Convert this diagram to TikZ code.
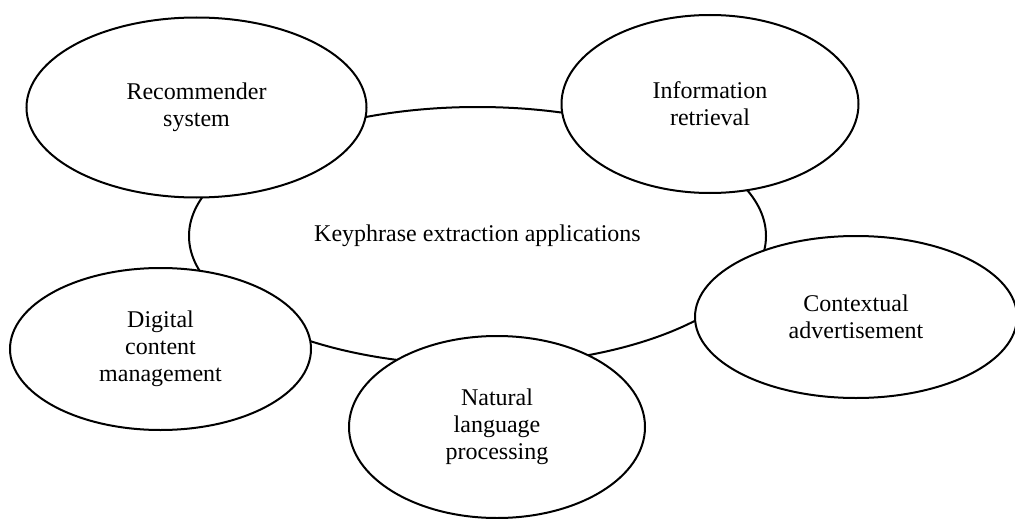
\documentclass[tikz,border=0pt]{standalone}
\usepackage{fontspec}
\setmainfont{Liberation Serif}
\usetikzlibrary{shapes.geometric}
\begin{document}
\begin{tikzpicture}[x=1pt,y=-1pt,
  bub/.style={ellipse,draw,line width=2pt,fill=white,inner sep=0pt,align=center,
    font=\fontsize{24}{27}\selectfont}]
\useasboundingbox (0,0) rectangle (1015,519);
\node[bub, minimum width=577pt, minimum height=258pt] (core) at (477.5,236) {Keyphrase extraction applications};
\node[bub, minimum width=340pt, minimum height=180pt] (rec) at (196.5,107.5) {Recommender\\system};
\node[bub, minimum width=297pt, minimum height=178pt] (info) at (710,104) {Information\\retrieval};
\node[bub, minimum width=322pt, minimum height=162pt] (ctx) at (856,317) {Contextual\\advertisement};
\node[bub, minimum width=301pt, minimum height=162pt] (dig) at (160.5,349) {Digital\\content\\management};
\node[bub, minimum width=296pt, minimum height=182pt] (nlp) at (497,427) {Natural\\language\\processing};
\end{tikzpicture}
\end{document}
